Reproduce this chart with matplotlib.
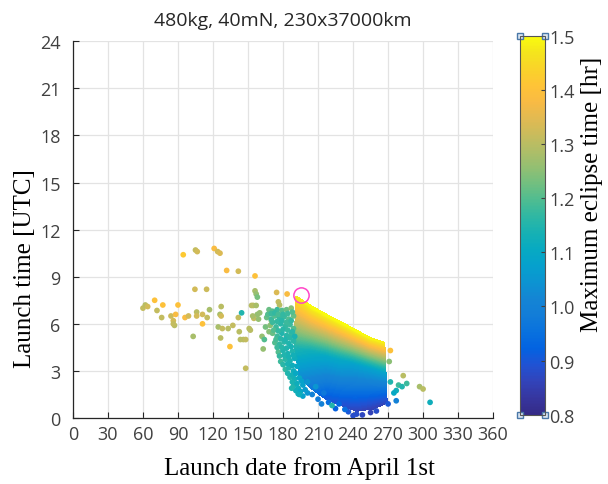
import matplotlib
matplotlib.use('Agg')
import matplotlib.pyplot as plt
import numpy as np
from matplotlib.colors import LinearSegmentedColormap, Normalize
from matplotlib.cm import ScalarMappable

# parula-like colormap (MATLAB default)
parula_rgb = [
    (0.2081, 0.1663, 0.5292), (0.2123, 0.2138, 0.6270), (0.1959, 0.2645, 0.7279),
    (0.1253, 0.3242, 0.8303), (0.0117, 0.3875, 0.8820), (0.0329, 0.4430, 0.8720),
    (0.0722, 0.4887, 0.8467), (0.0793, 0.5200, 0.8312), (0.0488, 0.5772, 0.8228),
    (0.0239, 0.6287, 0.8038), (0.0267, 0.6642, 0.7607), (0.0843, 0.6928, 0.7062),
    (0.1801, 0.7177, 0.6424), (0.3022, 0.7376, 0.5712), (0.4420, 0.7481, 0.5033),
    (0.5709, 0.7485, 0.4494), (0.6834, 0.7435, 0.4044), (0.7858, 0.7356, 0.3633),
    (0.8824, 0.7274, 0.3217), (0.9739, 0.7314, 0.2666), (0.9990, 0.7653, 0.2164),
    (0.9788, 0.8271, 0.1633), (0.9589, 0.8949, 0.1132), (0.9763, 0.9831, 0.0538)]
parula = LinearSegmentedColormap.from_list('parula', parula_rgb)

# dense core of solutions: three rows (top edge, middle, bottom edge)
core_date = [[191, 205, 217, 230, 240, 255, 267],
             [190, 204, 217, 230, 240, 255, 268],
             [194, 204, 217, 230, 243, 258, 269]]
core_hr = [[7.75, 7.1, 6.6, 6.1, 5.7, 5.1, 4.8],
           [4.6, 4.3, 4.0, 3.75, 3.5, 3.2, 2.9],
           [2.7, 1.9, 1.2, 0.8, 0.45, 0.6, 1.0]]
core_ecl = [[1.47, 1.5, 1.5, 1.5, 1.5, 1.49, 1.48],
            [1.15, 1.12, 1.1, 1.1, 1.08, 1.08, 1.08],
            [1.03, 0.97, 0.9, 0.88, 0.86, 0.85, 0.86]]

# sparse solutions, early launch dates
early_date = [60, 62, 64, 70, 72, 77, 76, 84, 86, 87, 88, 86, 90, 94.5, 96, 99, 103,
              104.5, 105, 106.5, 106, 106, 111, 111, 114.5, 115, 117, 121, 124, 126,
              124.5, 126, 127, 127, 126.5, 128, 131.7, 133, 137, 134.5, 141.7, 141.7,
              142.5, 144.5, 143.5, 146, 148, 148, 151, 152, 154.5, 156, 156, 157, 158,
              155, 159, 163, 174.5, 183.5, 176, 177, 153, 157, 158, 154, 160,
              170, 165, 168, 162, 164]
early_hr = [7.0, 7.2, 7.1, 7.5, 6.85, 7.2, 6.4, 6.5, 6.2, 5.9, 6.6, 6.0, 7.2, 10.4, 6.4,
            6.5, 5.2, 8.2, 10.7, 10.6, 6.75, 6.5, 6.0, 6.6, 8.2, 6.4, 6.9, 10.8, 10.6,
            10.5, 5.8, 6.6, 7.1, 6.5, 5.1, 5.7, 9.4, 5.7, 5.9, 4.55, 9.35, 6.4, 5.5,
            6.7, 5.0, 5.0, 5.0, 3.17, 5.7, 5.6, 7.17, 9.05, 8.1, 7.9, 7.7, 6.35, 6.3,
            4.4, 8.0, 7.9, 7.4, 7.2, 7.17, 7.17, 6.6, 6.5, 6.7,
            6.2, 5.8, 5.5, 5.2, 5.0]
early_ecl = [1.31, 1.3, 1.33, 1.4, 1.31, 1.4, 1.31, 1.32, 1.33, 1.3, 1.38, 1.31,
             1.4, 1.42, 1.38, 1.33, 1.28, 1.33, 1.31, 1.33, 1.3, 1.33, 1.4, 1.33,
             1.32, 1.31, 1.28, 1.38, 1.33, 1.34, 1.28, 1.28, 1.3, 1.33, 1.3, 1.31,
             1.38, 1.3, 1.31, 1.4, 1.33, 1.31, 1.3, 1.15, 1.3, 1.3, 1.31, 1.31, 1.3,
             1.3, 1.3, 1.4, 1.28, 1.26, 1.23, 1.31, 1.26, 1.26, 1.34, 1.38, 1.31,
             1.3, 1.3, 1.28, 1.26, 1.28, 1.26,
             1.26, 1.23, 1.25, 1.26, 1.2]

# teal cloud left of the core
cloud_date = [168, 171, 175, 179, 183, 187, 166, 170, 173, 177, 181, 185, 189,
              169, 174, 178, 182, 186, 189, 171, 175, 179, 183, 187, 173, 177, 181,
              185, 189, 176, 180, 184, 188, 178, 182, 186, 190, 182, 185, 189, 192,
              186, 190, 194, 189, 193, 197, 193, 197, 201,
              167, 170, 173, 176, 180, 184, 188, 171, 175, 179, 183, 187, 172, 176,
              180, 184, 188, 174, 178, 182, 186, 190, 175, 179, 183, 187, 177, 181,
              185, 189, 180, 184, 188, 184, 188, 191, 188, 192, 196, 191, 195, 199,
              187.4, 194]
cloud_hr = [6.9, 6.8, 6.9, 6.85, 6.9, 7.0, 6.4, 6.3, 6.5, 6.4, 6.45, 6.3, 6.5,
            5.9, 5.8, 6.0, 5.85, 5.95, 5.7, 5.4, 5.2, 5.4, 5.25, 5.35, 4.8, 4.7, 4.85,
            4.75, 4.9, 4.2, 4.3, 4.1, 4.25, 3.6, 3.75, 3.65, 3.8, 3.1, 3.2, 3.0, 3.3,
            2.6, 2.5, 2.55, 2.05, 1.9, 2.1, 1.55, 1.4, 1.6,
            6.6, 6.65, 6.7, 6.6, 6.6, 6.65, 6.75, 6.1, 6.15, 6.2, 6.1, 6.2, 5.6, 5.55,
            5.65, 5.6, 5.5, 5.0, 5.05, 5.0, 5.1, 5.2, 4.5, 4.5, 4.45, 4.55, 3.95, 4.0,
            3.9, 4.0, 3.4, 3.45, 3.35, 2.85, 2.75, 2.85, 2.3, 2.2, 2.35, 1.75, 1.7, 1.8,
            1.9, 1.5]
cloud_ecl = [1.22, 1.2, 1.18, 1.2, 1.22, 1.25, 1.22, 1.18, 1.2, 1.17, 1.18, 1.2, 1.22,
             1.25, 1.18, 1.16, 1.17, 1.18, 1.2, 1.22, 1.18, 1.15, 1.16, 1.17, 1.2,
             1.17, 1.16, 1.15, 1.16, 1.2, 1.15, 1.14, 1.15, 1.18, 1.16, 1.14, 1.12,
             1.17, 1.15, 1.12, 1.1, 1.15, 1.13, 1.1, 1.15, 1.12, 1.08, 1.12, 1.08, 1.05,
             1.2, 1.18, 1.17, 1.19, 1.17, 1.18, 1.2, 1.18, 1.17, 1.16, 1.18, 1.17,
             1.2, 1.17, 1.16, 1.17, 1.16, 1.19, 1.16, 1.15, 1.16, 1.14, 1.18, 1.16,
             1.15, 1.14, 1.17, 1.15, 1.14, 1.13, 1.16, 1.14, 1.12, 1.15, 1.13, 1.1,
             1.14, 1.12, 1.08, 1.12, 1.1, 1.06, 1.15, 1.12]

# ragged edges of the core and late outliers
late_date = [205, 210, 213, 208, 201, 215, 219, 225, 228, 236, 240,
             283, 279, 282, 286, 277, 297, 300, 306, 277, 275, 272, 222, 233, 243,
             260, 248, 255, 270, 271, 272]
late_hr = [1.5, 1.2, 0.9, 2.0, 2.3, 1.6, 1.0, 0.6, 0.9, 0.4, 0.15,
           2.7, 2.1, 2.0, 2.2, 1.75, 2.0, 1.85, 1.0, 1.1, 1.6, 2.3, 0.8, 0.55, 0.25,
           0.45, 0.2, 0.35, 0.9, 3.6, 4.3]
late_ecl = [1.0, 0.98, 1.0, 1.05, 1.05, 0.97, 0.95, 0.92, 0.93, 0.9, 0.88,
            1.3, 1.18, 1.15, 1.18, 1.12, 1.28, 1.3, 1.12, 1.0, 1.1, 1.15, 1.15, 0.95,
            0.88, 0.88, 0.87, 0.86, 0.9, 1.25, 1.4]

marked_date, marked_hr = 195, 7.85

norm = Normalize(vmin=0.8, vmax=1.5)
plt.rcParams['font.family'] = 'Open Sans'

fig = plt.figure(figsize=(6.08, 4.85), dpi=100)
ax = fig.add_axes([0.120, 0.136, 0.691, 0.777])
cax = fig.add_axes([0.855, 0.143, 0.041, 0.781])

cs = ax.contourf(np.array(core_date), np.array(core_hr), np.array(core_ecl),
                 levels=np.linspace(0.8, 1.5001, 141), cmap=parula, norm=norm,
                 zorder=2)
cs.set_edgecolor('face')
cs.set_linewidth(0.4)
for d, h, e in [(early_date, early_hr, early_ecl), (cloud_date, cloud_hr, cloud_ecl),
                (late_date, late_hr, late_ecl)]:
    ax.scatter(d, h, c=e, cmap=parula, norm=norm, s=17, linewidths=0, zorder=3)
ax.plot(marked_date, marked_hr, 'o', mfc='none', mec='#ff45c8', ms=11, mew=1.1,
        zorder=4)

ax.set_xlim(0, 360)
ax.set_ylim(0, 24)
ax.set_xticks(np.arange(0, 361, 30))
ax.set_yticks(np.arange(0, 25, 3))
ax.grid(True, color='#e3e3e3', lw=0.9, zorder=0)
ax.set_axisbelow(True)
for s in ['top', 'right']:
    ax.spines[s].set_visible(False)
for s in ['left', 'bottom']:
    ax.spines[s].set_color('#262626')
    ax.spines[s].set_linewidth(0.9)
ax.tick_params(direction='in', length=4, color='#262626', labelsize=13,
               labelcolor='#404040')
ax.tick_params(axis='x', pad=5)
ax.tick_params(axis='y', pad=9)
ax.set_title('480kg, 40mN, 230x37000km', fontsize=14, color='#262626', pad=12)
ax.set_xlabel('Launch date from April 1st', family='Liberation Serif', fontsize=18)
ax.xaxis.set_label_coords(0.54, -0.1)
ax.set_ylabel('Launch time [UTC]', family='Liberation Serif', fontsize=18)
ax.yaxis.set_label_coords(-0.088, 0.40)

cb = fig.colorbar(ScalarMappable(norm=norm, cmap=parula), cax=cax)
cb.set_ticks(np.arange(0.8, 1.51, 0.1))
cb.set_ticklabels(['%.1f' % v for v in np.arange(0.8, 1.51, 0.1)])
cb.outline.set_edgecolor('#555555')
cb.outline.set_linewidth(0.8)
cax.tick_params(direction='in', length=3, color='#404040', labelsize=13,
                labelcolor='#404040', pad=3)
cax.set_ylabel('Maximum eclipse time [hr]', family='Liberation Serif', fontsize=18)
cax.yaxis.set_label_coords(2.45, 0.585)
cax.plot([0, 1, 0, 1], [0, 0, 1, 1], 's', ms=5, mfc='#dbe6f2', mec='#4a78a8',
         mew=1, transform=cax.transAxes, clip_on=False)

fig.savefig('out.png', dpi=100)
